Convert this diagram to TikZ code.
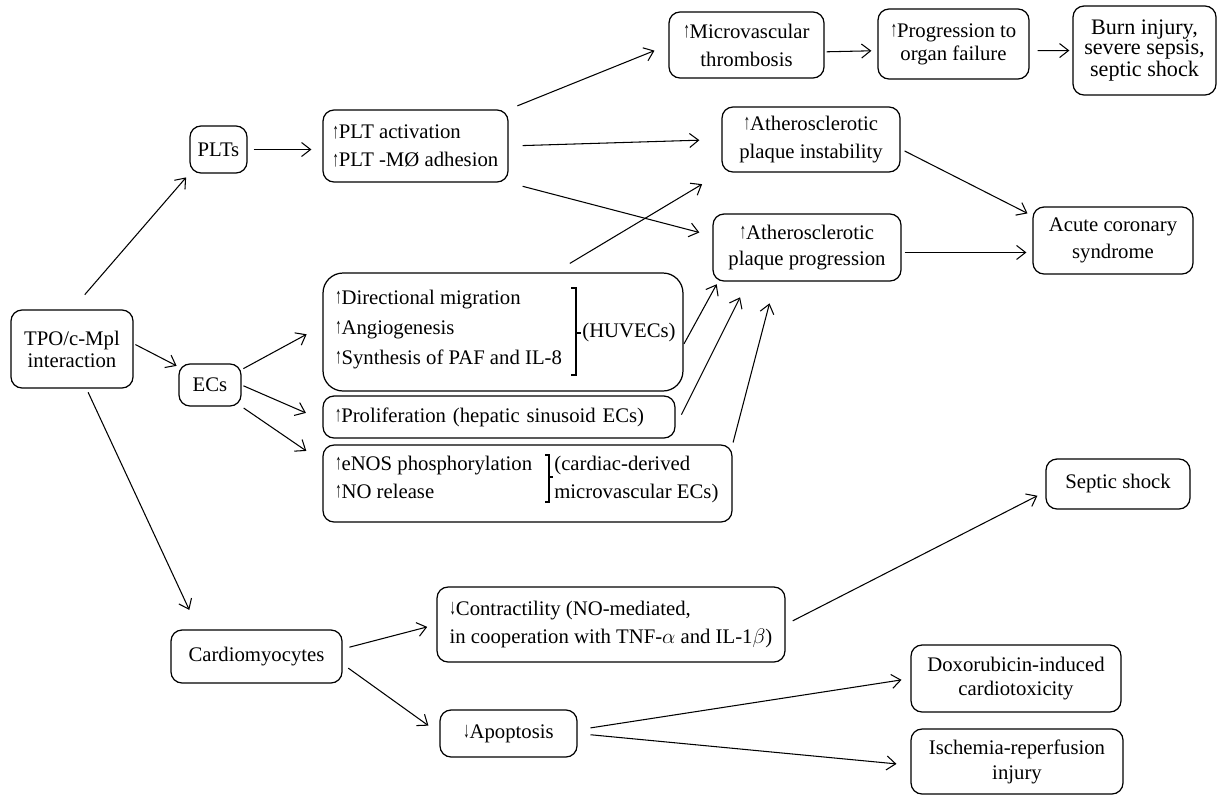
\documentclass[tikz,border=0pt]{standalone}
\usepackage{fontspec}
\setmainfont{Liberation Serif}
\usepackage{graphicx}
\usetikzlibrary{arrows.meta}
\newcommand{\dfont}{\fontsize{11.8}{11.4}\selectfont}
\newcommand{\upar}{\raisebox{0.05ex}{\scalebox{0.6}[1.05]{↑}}}
\newcommand{\dnar}{\raisebox{0.05ex}{\scalebox{0.6}[1.05]{↓}}}
\tikzset{
    box/.style={rectangle, draw, rounded corners=0.22cm, line width=0.7pt, align=center, font=\dfont, inner sep=0pt},
    txt/.style={font=\dfont, inner sep=0pt},
    arr/.style={-{Straight Barb[length=1.8mm, width=2.8mm]}, line width=0.6pt},
    brk/.style={line width=0.6pt},
}

\begin{document}
\begin{tikzpicture}[x=0.02cm, y=-0.02cm]
\useasboundingbox (0,0) rectangle (1218,796);

% ── Source ──
\node[box, minimum width=2.44cm, minimum height=1.56cm] (tpo) at (72,349) {TPO/c-Mpl\\[1.1pt]interaction};

% ── Platelets ──
\node[box, minimum width=1.14cm, minimum height=0.94cm] (plts) at (218.5,149.5) {PLTs};
\node[box, minimum width=3.7cm, minimum height=1.44cm, align=left] (pltact) at (415.5,146) {\upar PLT activation\\[4.6pt]\upar PLT -MØ adhesion};
\node[box, minimum width=3.1cm, minimum height=1.32cm] (micro) at (746.5,45) {\upar Microvascular\\[4.6pt]thrombosis};
\node[box, minimum width=3.02cm, minimum height=1.4cm] (organ) at (953.5,44) {\upar Progression to\\[1.7pt]organ failure};
\node[box, minimum width=2.86cm, minimum height=1.78cm, font=\fontsize{12.6}{11.4}\selectfont] (burn) at (1144.5,50.5) {Burn injury,\\severe sepsis,\\septic shock};
\node[box, minimum width=3.56cm, minimum height=1.3cm] (instab) at (811,139.5) {\upar Atherosclerotic\\[4.6pt]plaque instability};
\node[box, minimum width=3.76cm, minimum height=1.34cm] (progr) at (807,247.5) {\upar Atherosclerotic\\[3.4pt]plaque progression};
\node[box, minimum width=3.2cm, minimum height=1.34cm] (acs) at (1113,240.5) {Acute coronary\\[4pt]syndrome};

% ── Endothelial cells ──
\node[box, minimum width=1.24cm, minimum height=0.84cm] (ecs) at (210,385) {ECs};
\node[box, rounded corners=0.4cm, minimum width=7.2cm, minimum height=2.36cm] (huvec) at (503,332) {};
\node[txt, anchor=base west] (dirmig) at (335,304) {\upar Directional migration};
\node[txt, anchor=base west] (angio) at (335,334) {\upar Angiogenesis};
\node[txt, anchor=base west] (synth) at (335,364) {\upar Synthesis of PAF and IL-8};
\draw[brk] (571,288) -- (576,288) -- (576,375) -- (571,375);
\draw[brk] (576,333) -- (581,333);
\node[txt, anchor=west] (huvlab) at (582,333) {(HUVECs)};

\node[box, minimum width=7.04cm, minimum height=0.84cm, text width=6.56cm, align=left] (prolif) at (499,417) {\upar Proliferation (hepatic sinusoid ECs)};

\node[box, minimum width=8.18cm, minimum height=1.54cm] (enos) at (527.5,483.5) {};
\node[txt, anchor=base west] (phos) at (335,470) {\upar eNOS phosphorylation};
\node[txt, anchor=base west] (norel) at (335,498) {\upar NO release};
\draw[brk] (545,455) -- (549,455) -- (549,502) -- (545,502);
\draw[brk] (549,477) -- (553,477);
\node[txt, anchor=base west] (cardder) at (554,470) {(cardiac-derived};
\node[txt, anchor=base west] (mvecs) at (554,498) {microvascular ECs)};

% ── Cardiomyocytes ──
\node[box, minimum width=3.42cm, minimum height=1.06cm] (cardio) at (256.5,656.5) {Cardiomyocytes};
\node[box, minimum width=6.96cm, minimum height=1.5cm, align=left] (contr) at (611,624.5) {\dnar Contractility (NO-mediated,\\[4.6pt]in cooperation with TNF-$\alpha$ and IL-1$\beta$)};
\node[box, minimum width=2.74cm, minimum height=0.94cm] (apop) at (508.5,733.5) {\dnar Apoptosis};
\node[box, minimum width=2.88cm, minimum height=1cm] (septic) at (1118,484) {Septic shock};
\node[box, minimum width=4.2cm, minimum height=1.34cm] (doxo) at (1016,678.5) {Doxorubicin-induced\\[2.3pt]cardiotoxicity};
\node[box, minimum width=4.24cm, minimum height=1.3cm] (isch) at (1017,761.5) {Ischemia-reperfusion\\[2.8pt]injury};

% ── Connectors ──
\draw[arr, shorten <=0.39cm, shorten >=0.1cm] (tpo.north) -- (plts.south west);
\draw[arr, shorten <=0.04cm, shorten >=0.04cm] (tpo.5) -- (ecs.150);
\draw[arr, shorten <=0.08cm, shorten >=0.43cm] (tpo.290) -- (cardio.155);
\draw[arr, shorten <=0.12cm, shorten >=0.22cm] (plts.east) -- (pltact.west |- plts.east);
\draw[arr, shorten <=0.19cm, shorten >=0.3cm] (pltact.north east) -- (micro.west);
\draw[arr, shorten <=0.28cm, shorten >=0.44cm] (pltact.east) -- (instab.west);
\draw[arr, shorten <=0.29cm, shorten >=0.27cm] (pltact.south east) -- (progr.173);
\draw[arr, shorten <=0.35cm, shorten >=0.45cm] (huvec.49) -- (instab.south west);
\draw[arr, shorten <=0.04cm, shorten >=0.12cm] (micro.355) -- (organ.185);
\draw[arr, shorten <=0.16cm, shorten >=0.06cm] (organ.355) -- (burn.west);
\draw[arr, shorten <=0.09cm, shorten >=0.11cm] (instab.354) -- (acs.163);
\draw[arr, shorten <=0.06cm, shorten >=0.12cm] (progr.357) -- (acs.west |- progr.357);
\draw[arr, shorten <=0.04cm, shorten >=0.36cm] (ecs.26) -- (huvec.178);
\draw[arr, shorten <=0.04cm, shorten >=0.36cm] (ecs.east) -- (prolif.181);
\draw[arr, shorten <=0.05cm, shorten >=0.39cm] (ecs.south east) -- (enos.174);
\draw[arr, shorten <=0.02cm, shorten >=0.06cm] (huvec.356.5) -- (progr.201);
\draw[arr, shorten <=0.26cm, shorten >=0.35cm] (prolif.357) -- (progr.210);
\draw[arr, shorten <=0.04cm, shorten >=0.45cm] (enos.north east) -- (progr.227);
\draw[arr, shorten <=0.14cm, shorten >=0.19cm] (cardio.5) -- (contr.west);
\draw[arr, shorten <=0.14cm, shorten >=0.27cm] (cardio.355) -- (apop.west);
\draw[arr, shorten <=0.16cm, shorten >=0.18cm] (contr.east) -- (septic.186);
\draw[arr, shorten <=0.26cm, shorten >=0.18cm] (apop.3) -- (doxo.west);
\draw[arr, shorten <=0.26cm, shorten >=0.28cm] (apop.east) -- (isch.182);

\end{tikzpicture}
\end{document}
